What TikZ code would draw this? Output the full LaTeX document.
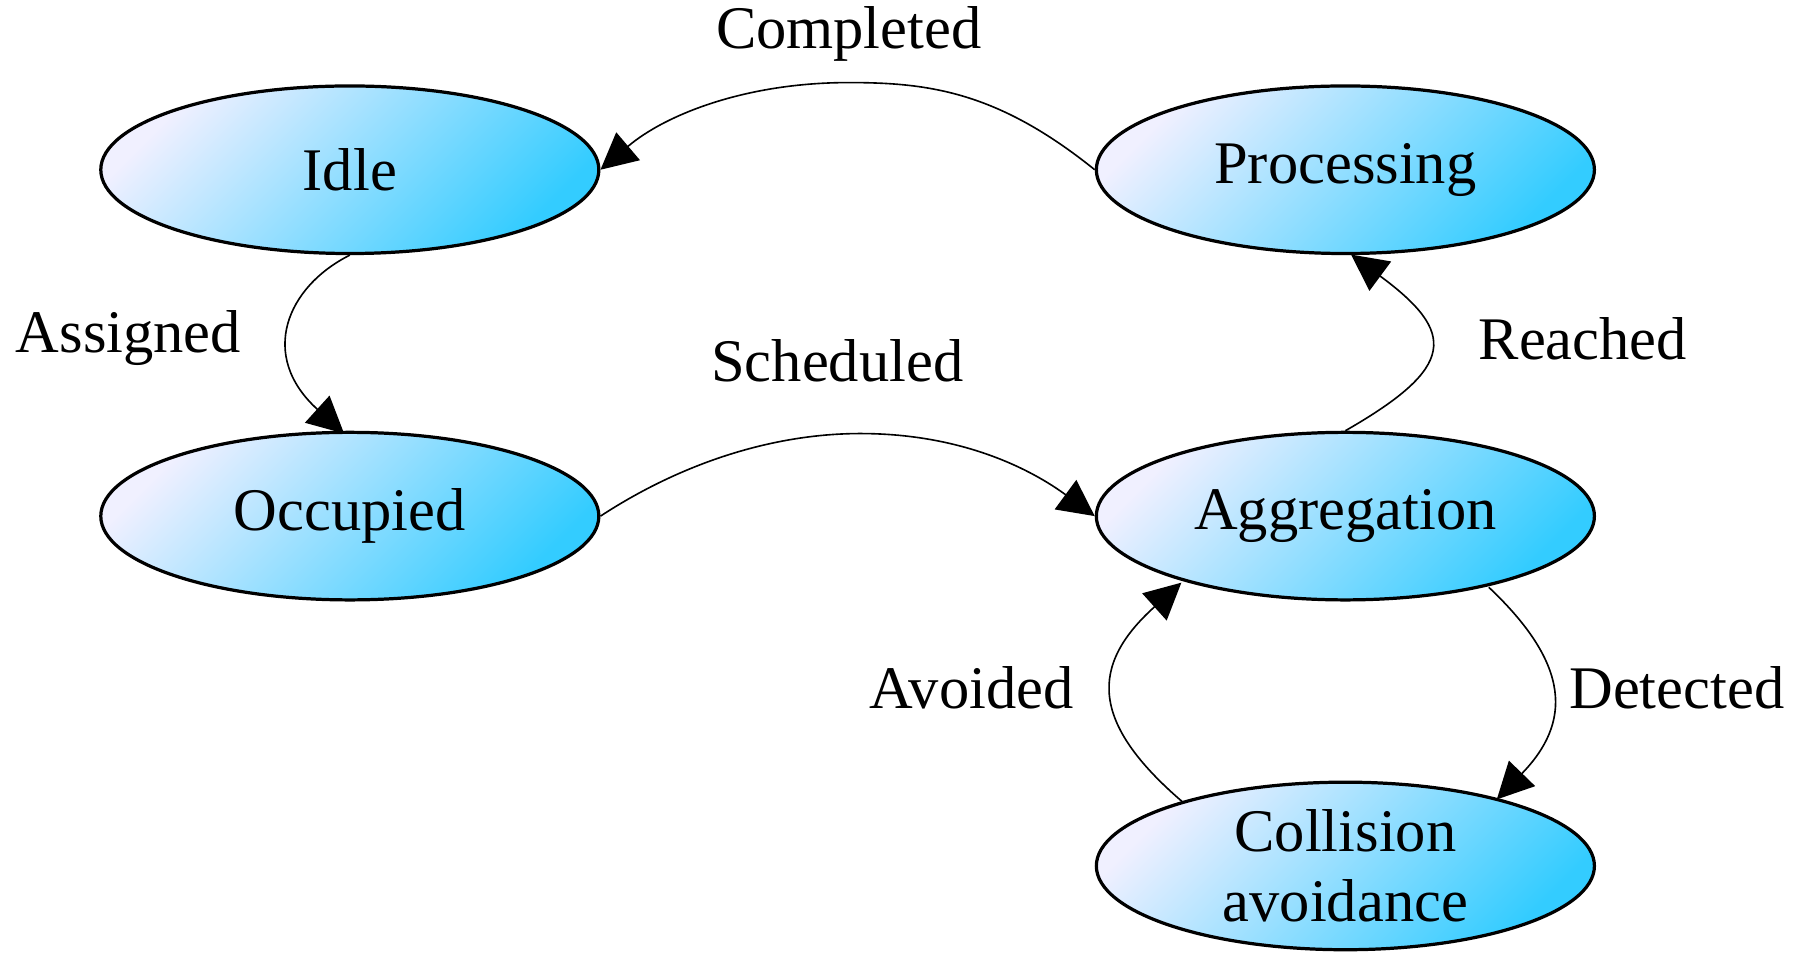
\documentclass[tikz,border=0pt]{standalone}
\usepackage{fontspec}
\setmainfont{Liberation Serif}
\usetikzlibrary{shapes.geometric,arrows.meta}
\tikzset{state/.style={ellipse,draw=black,thick,minimum width=4.34cm,minimum height=1.46cm,
    align=center,inner sep=0pt,left color=blue!6!white,right color=cyan!75!blue!80!white,shading angle=45,
    font=\fontsize{15}{15.5}\selectfont},
  lbl/.style={font=\fontsize{15}{16}\selectfont},
  trans/.style={-{Triangle[length=9pt,width=9pt]},thin}}
\begin{document}
\begin{tikzpicture}[x=0.01cm,y=-0.01cm]
\useasboundingbox (0,0) rectangle (1565,846);
% states
\node[state] (idle) at (305,148) {Idle};
\node[state] (proc) at (1173,148) {Processing};
\node[state] (occ) at (305,450) {Occupied};
\node[state] (aggr) at (1173,450) {Aggregation};
\node[state] (coll) at (1173,755) {Collision\\[2pt]avoidance};
% transitions
\draw[trans] (proc.west) .. controls (870,80) and (810,72) .. (740,72)
  .. controls (650,72) and (580,100) .. (idle.east);
\draw[trans] (idle.south) .. controls (250,250) and (225,310) .. (300,378);
\draw[trans] (occ.east) .. controls (600,400) and (680,378) .. (750,378)
  .. controls (840,378) and (900,410) .. (aggr.west);
\draw[trans] (aggr.north) .. controls (1270,320) and (1270,290) .. (1178,222);
\draw[trans] (1298,512) .. controls (1370,580) and (1370,630) .. (1305,697);
\draw[trans] (1032,700) .. controls (950,630) and (950,580) .. (1030,508);
% labels
\node[lbl] (lcomp) at (740,30) {Completed};
\node[lbl] (lassi) at (112,295) {Assigned};
\node[lbl] (lsched) at (730,315) {Scheduled};
\node[lbl] (lreach) at (1380,295) {Reached};
\node[lbl] (lavoid) at (847,600) {Avoided};
\node[lbl] (ldetect) at (1462,600) {Detected};
\end{tikzpicture}
\end{document}
